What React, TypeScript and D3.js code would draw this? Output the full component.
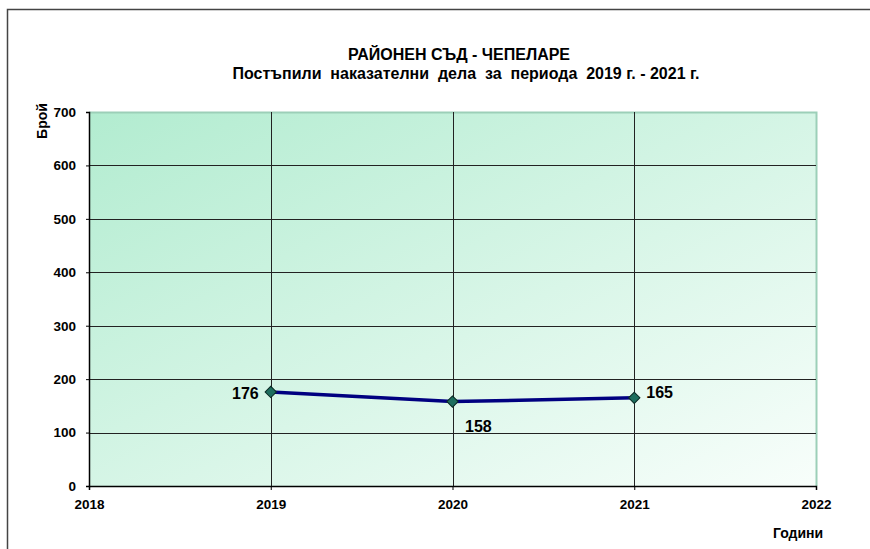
import React, { useEffect, useRef } from 'react';
import * as d3 from 'd3';

const years = [2019, 2020, 2021];
const cases = [176, 158, 165];
const yTicks = [0, 100, 200, 300, 400, 500, 600, 700];
const xTicks = [2018, 2019, 2020, 2021, 2022];
const titleLines = ['РАЙОНЕН СЪД - ЧЕПЕЛАРЕ', 'Постъпили  наказателни  дела  за  периода  2019 г. - 2021 г.'];

const App = () => {
  const ref = useRef<SVGSVGElement>(null);

  useEffect(() => {
    const svg = d3.select(ref.current);
    svg.selectAll('*').remove();
    const W = 870, H = 549;
    const m = { left: 89, top: 112, right: 54, bottom: 63 };
    const w = W - m.left - m.right;
    const h = H - m.top - m.bottom;
    const font = '"Liberation Sans", Arial, sans-serif';

    svg.append('rect').attr('width', W).attr('height', H).attr('fill', '#fff');
    // outer frame
    svg.append('path')
      .attr('d', `M7.5,${H} V9.5 H${W}`)
      .attr('fill', 'none').attr('stroke', '#444').attr('stroke-width', 1.5);

    const defs = svg.append('defs');
    const grad = defs.append('linearGradient').attr('id', 'bg')
      .attr('x1', '0').attr('y1', '0').attr('x2', '1').attr('y2', '1');
    grad.append('stop').attr('offset', '0%').attr('stop-color', '#b2ecd0');
    grad.append('stop').attr('offset', '100%').attr('stop-color', '#f8fefb');

    const g = svg.append('g').attr('transform', `translate(${m.left},${m.top})`);

    const x = d3.scaleLinear().domain([2018, 2022]).range([0, w]);
    const y = d3.scaleLinear().domain([0, 700]).range([h, 0]);

    g.append('rect').attr('width', w).attr('height', h).attr('fill', 'url(#bg)');
    // plot border top/right
    g.append('path').attr('d', `M0,0.5 H${w + 0.5} V${h}`)
      .attr('fill', 'none').attr('stroke', '#9ccfb8').attr('stroke-width', 2);

    // gridlines
    g.selectAll('.hg').data(yTicks.filter(t => t > 0 && t < 700)).enter().append('line')
      .attr('x1', 0).attr('x2', w)
      .attr('y1', d => Math.round(y(d)) + 0.5).attr('y2', d => Math.round(y(d)) + 0.5)
      .attr('stroke', '#222').attr('stroke-width', 1);
    g.selectAll('.vg').data(years).enter().append('line')
      .attr('y1', 0).attr('y2', h)
      .attr('x1', d => Math.round(x(d)) + 0.5).attr('x2', d => Math.round(x(d)) + 0.5)
      .attr('stroke', '#222').attr('stroke-width', 1);

    // axes
    const yAxis = g.append('g').call(d3.axisLeft(y).tickValues(yTicks).tickSize(3).tickPadding(10).tickFormat(d3.format('d')));
    const xAxis = g.append('g').attr('transform', `translate(0,${h})`)
      .call(d3.axisBottom(x).tickValues(xTicks).tickSize(4).tickPadding(5).tickFormat(d3.format('d')));
    [yAxis, xAxis].forEach(a => {
      a.select('.domain').attr('stroke', '#000').attr('stroke-width', 1.5);
      a.selectAll('line').attr('stroke', '#000');
      a.selectAll('text').attr('font-family', font).attr('font-size', 13.5)
        .attr('font-weight', 'bold').attr('fill', '#000');
    });
    xAxis.selectAll('text').attr('dy', '1em');

    // line
    const line = d3.line<number>().x((d, i) => x(years[i])).y(d => y(d));
    g.append('path').datum(cases).attr('d', line)
      .attr('fill', 'none').attr('stroke', '#000080').attr('stroke-width', 3.5);

    const sym = d3.symbol().type(d3.symbolSquare).size(64);
    g.selectAll('.pt').data(cases).enter().append('path')
      .attr('d', sym)
      .attr('transform', (d, i) => `translate(${x(years[i])},${y(d)}) rotate(45)`)
      .attr('fill', '#1e6e5e').attr('stroke', '#0a2a24').attr('stroke-width', 1);

    const offs = [[-12, 7, 'end'], [12.5, 30, 'start'], [12, 0, 'start']];
    g.selectAll('.lbl').data(cases).enter().append('text')
      .attr('x', (d, i) => x(years[i]) + (offs[i][0] as number))
      .attr('y', (d, i) => y(d) + (offs[i][1] as number))
      .attr('text-anchor', (d, i) => offs[i][2] as string)
      .attr('font-family', font).attr('font-size', 16).attr('font-weight', 'bold')
      .text(d => d);

    // titles
    svg.selectAll('.title').data(titleLines).enter().append('text')
      .attr('x', (d, i) => (i === 0 ? 459 : 466)).attr('y', (d, i) => 60 + i * 19)
      .attr('text-anchor', 'middle')
      .style('white-space', 'pre')
      .attr('font-family', font).attr('font-size', 16).attr('font-weight', 'bold')
      .text(d => d);

    svg.append('text')
      .attr('transform', 'translate(47,121) rotate(-90)')
      .attr('text-anchor', 'middle')
      .attr('font-family', font).attr('font-size', 14).attr('font-weight', 'bold')
      .text('Брой');

    svg.append('text')
      .attr('x', 798).attr('y', 538)
      .attr('text-anchor', 'middle')
      .attr('font-family', font).attr('font-size', 14).attr('font-weight', 'bold')
      .text('Години');
  }, []);

  return <svg ref={ref} width={870} height={549} style={{ position: 'absolute', left: 0, top: 0 }}></svg>;
};

export default App;
